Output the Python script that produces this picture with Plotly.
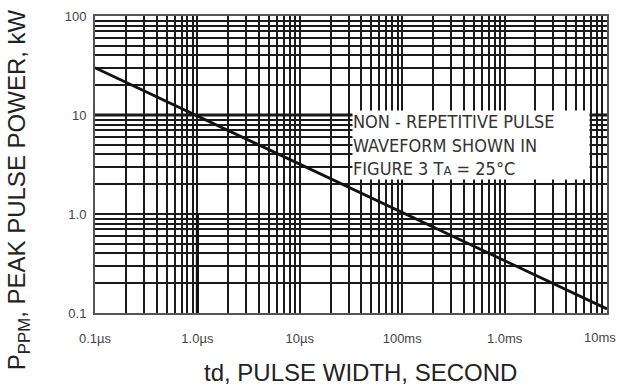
import plotly.graph_objects as go

# Pulse width axis: decade tick positions (seconds) and their printed labels
x_decades = [1e-7, 1e-6, 1e-5, 1e-4, 1e-3, 1e-2]
x_decade_labels = ["0.1\u00b5s", "1.0\u00b5s", "10\u00b5s", "100ms", "1.0ms", "10ms"]

# Peak power axis: decade tick positions (kW) and their printed labels
y_decades = [0.1, 1.0, 10.0, 100.0]
y_decade_labels = ["0.1", "1.0", "10", "100"]

# Derating curve: pulse width (s) vs peak pulse power (kW)
pulse_width = [1e-7, 1e-2]
peak_power = [30.0, 0.11]

# Emphasised 10 kW reference line and the 1.0 us marker
ref_power = [10.0, 10.0]
marker_width = [1e-6, 1e-6]
marker_power = [1.0, 0.1]

note_lines = [
    "NON - REPETITIVE PULSE",
    "WAVEFORM SHOWN IN",
    "FIGURE 3 T<span style='font-size:13px'>A</span> = 25\u00b0C",
]


def log_grid(decades, labels):
    vals, texts = [], []
    for i, d in enumerate(decades):
        vals.append(d)
        texts.append(labels[i])
        if i < len(decades) - 1:
            for m in range(2, 10):
                vals.append(d * m)
                texts.append("")
    return vals, texts


# the last x label sits at the right edge, so it is drawn separately, pulled inward
xv, xt = log_grid(x_decades, x_decade_labels[:-1] + [""])
yv, yt = log_grid(y_decades, y_decade_labels)

line_col = "#1a1a1a"

fig = go.Figure()
fig.add_trace(go.Scatter(x=[x_decades[0], x_decades[-1]], y=ref_power, mode="lines",
                         line=dict(color=line_col, width=3.2), hoverinfo="skip"))
fig.add_trace(go.Scatter(x=marker_width, y=marker_power, mode="lines",
                         line=dict(color="#111", width=3.2), hoverinfo="skip"))
fig.add_trace(go.Scatter(x=pulse_width, y=peak_power, mode="lines",
                         line=dict(color="#111", width=2.8), hoverinfo="skip"))

axis_font = dict(family="Liberation Sans, Arial, sans-serif", size=13, color="#444")

fig.update_xaxes(type="log", range=[-7, -2], tickmode="array", tickvals=xv, ticktext=xt,
                 showgrid=True, gridcolor=line_col, gridwidth=1.7,
                 showline=True, mirror=True, linecolor="#555", linewidth=2,
                 ticks="", tickfont=axis_font, ticklabelstandoff=12,
                 automargin=False, zeroline=False)
fig.update_yaxes(type="log", range=[-1, 2], tickmode="array", tickvals=yv, ticktext=yt,
                 showgrid=True, gridcolor=line_col, gridwidth=1.7,
                 showline=True, mirror=True, linecolor="#555", linewidth=2,
                 ticks="", tickfont=axis_font, ticklabelstandoff=4,
                 automargin=False, zeroline=False)

title_font = dict(family="Liberation Sans, Arial, sans-serif", size=24, color="#222")

fig.update_layout(
    width=618, height=385,
    margin=dict(l=95, r=11, t=16, b=72, autoexpand=False),
    paper_bgcolor="white", plot_bgcolor="white",
    showlegend=False,
    annotations=[
        dict(text=x_decade_labels[-1], xref="paper", yref="paper",
             x=0.986, y=-0.084, xanchor="center", yanchor="middle",
             showarrow=False, font=axis_font),
        dict(text="td, PULSE WIDTH, SECOND", xref="paper", yref="paper",
             x=0.5176, y=-0.199, xanchor="center", yanchor="middle",
             showarrow=False, font=title_font),
        dict(text="P<sub>PPM</sub>, PEAK PULSE POWER, kW", xref="paper", yref="paper",
             x=-0.150, y=0.414, xanchor="center", yanchor="middle", textangle=-90,
             showarrow=False, font=title_font),
        dict(text="<br>".join(note_lines), xref="paper", yref="paper",
             x=0.502, y=0.6835, xanchor="left", yanchor="top", align="left",
             width=236, height=68, valign="middle", borderpad=0,
             bgcolor="white", showarrow=False,
             font=dict(family="Liberation Sans Narrow, DejaVu Sans Condensed, sans-serif",
                       size=18, color="#333")),
    ],
)

fig.write_html("out.html")
